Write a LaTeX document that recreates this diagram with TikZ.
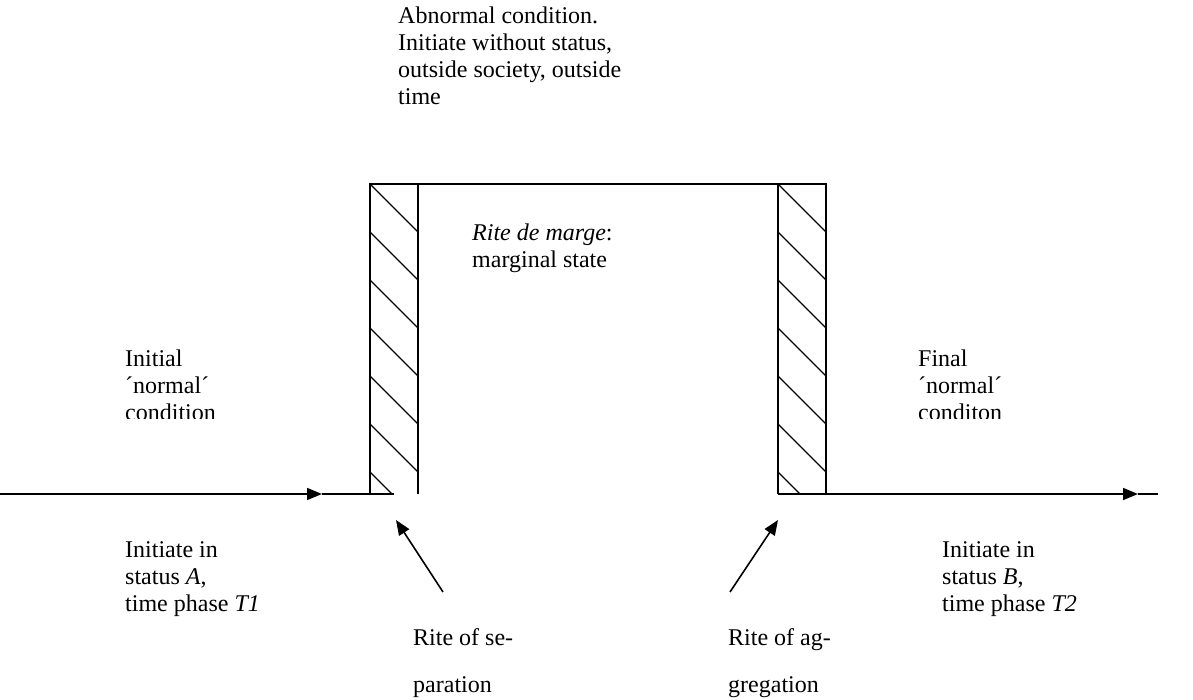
\documentclass[tikz,border=0pt]{standalone}
\usepackage{fontspec}
\setmainfont{Liberation Serif}
\usetikzlibrary{arrows.meta}
\newcommand{\tnr}{\fontsize{24}{27}\selectfont}
\tikzset{
  lbl/.style={anchor=north west, inner sep=0pt, align=left, font=\tnr},
  ln/.style={line width=1.6pt, line cap=butt},
  hat/.style={line width=1.3pt},
  arr/.style={ln, -{Triangle[length=15pt, width=12pt]}}
}
\begin{document}
\begin{tikzpicture}[x=1pt, y=-1pt]
\useasboundingbox (0,0) rectangle (1193,700);
% bars and top
\coordinate (LBL) at (370,494);
\coordinate (LBR) at (418,494);
\coordinate (LTL) at (370,184);
\coordinate (LTR) at (418,184);
\coordinate (RBL) at (778,494);
\coordinate (RBR) at (826,494);
\coordinate (RTL) at (778,184);
\coordinate (RTR) at (826,184);
% hatching
\begin{scope}
  \clip (370,184) rectangle (418,494);
  \foreach \k in {0,...,6} { \draw[hat] (370,184+48*\k) -- (418,232+48*\k); }
\end{scope}
\begin{scope}
  \clip (778,184) rectangle (826,494);
  \foreach \k in {0,...,6} { \draw[hat] (778,184+48*\k) -- (826,232+48*\k); }
\end{scope}
\draw[ln] (LBL) -- (LTL) -- (RTR) -- (RBR);
\draw[ln] (LTR) -- (LBR);
\draw[ln] (RTL) -- (RBL);
% horizontal lines
\coordinate (start) at (0,494);
\coordinate (la) at (322,494);
\coordinate (lend) at (394,494);
\coordinate (ra) at (1138,494);
\coordinate (rend) at (1158,494);
\draw[arr] (start) -- (la);
\draw[ln] (la) -- (lend);
\draw[ln] (RBL) -- (RBR);
\draw[arr] (RBR) -- (ra);
\draw[ln] (ra) -- (rend);
% diagonal arrows
\coordinate (sepT) at (443,592);
\coordinate (sepH) at (396,520);
\coordinate (aggT) at (730,592);
\coordinate (aggH) at (778,520);
\draw[arr] (sepT) -- (sepH);
\draw[arr] (aggT) -- (aggH);
% texts
\node[lbl] (abn) at (398,4) {\strut Abnormal condition.\\Initiate without status,\\outside society, outside\\time};
\node[lbl] (marge) at (472,221) {\strut\textit{Rite de marge}:\\marginal state};
\begin{scope}
  \clip (0,330) rectangle (1193,418.5);
  \node[lbl] (init) at (125,347) {\strut Initial\\´normal´\\condition};
  \node[lbl] (fin) at (918,347) {\strut Final\\´normal´\\conditon};
\end{scope}
\node[lbl] (sA) at (125,538) {\strut Initiate in\\status \textit{A},\\time phase \textit{T1}};
\node[lbl] (sB) at (942,538) {\strut Initiate in\\status \textit{B},\\time phase \textit{T2}};
\node[lbl] (sep) at (413,626) {\strut Rite of se-\\[20pt]paration};
\node[lbl] (agg) at (728,626) {\strut Rite of ag-\\[20pt]gregation};
\end{tikzpicture}
\end{document}
